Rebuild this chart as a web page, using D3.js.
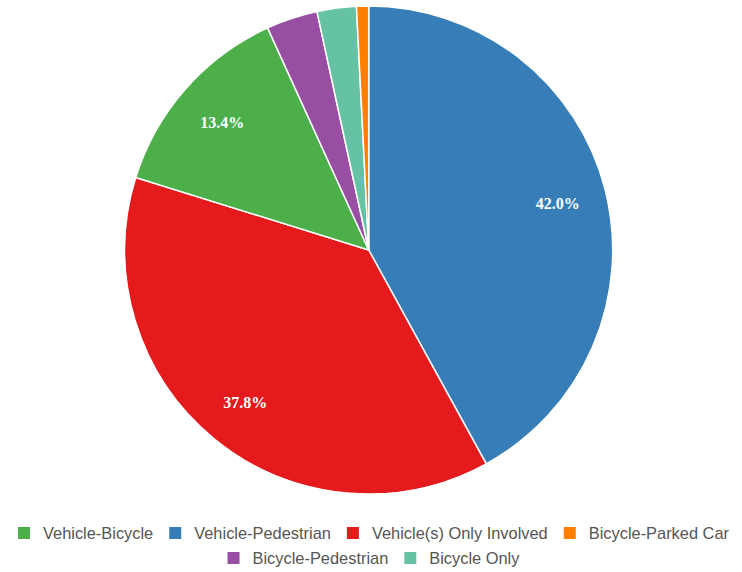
<!DOCTYPE html>
<html>
<head>
<meta charset="utf-8">
<script src="https://cdn.jsdelivr.net/npm/d3@7"></script>
<style>
  html, body { margin: 0; padding: 0; background: #fff; }
  svg { display: block; }
</style>
</head>
<body>
<svg id="chart" width="742" height="572"></svg>
<script>
// Data (clockwise from 12 o'clock)
const categories = ["Vehicle-Pedestrian", "Vehicle(s) Only Involved", "Vehicle-Bicycle", "Bicycle-Pedestrian", "Bicycle Only", "Bicycle-Parked Car"];
const values = [42.0, 37.8, 13.4, 3.4, 2.6, 0.8];
const colors = ["#377eb8", "#e41a1c", "#4daf4a", "#984ea3", "#66c2a5", "#ff7f00"];
const legendOrder = ["Vehicle-Bicycle", "Vehicle-Pedestrian", "Vehicle(s) Only Involved", "Bicycle-Parked Car", "Bicycle-Pedestrian", "Bicycle Only"];
const legendRows = [4, 2];
const labelMin = 10;

const svg = d3.select("#chart");
const cx = 368.7, cy = 250, r = 244;

const color = d3.scaleOrdinal().domain(categories).range(colors);
const data = categories.map((c, i) => ({ name: c, value: values[i] }));

const pie = d3.pie().value(d => d.value).sort(null);
const arc = d3.arc().innerRadius(0).outerRadius(r);
const labelArc = d3.arc().innerRadius(r * 0.8).outerRadius(r * 0.8);

const g = svg.append("g").attr("transform", `translate(${cx},${cy})`);
const arcs = pie(data);

g.selectAll("path").data(arcs).join("path")
  .attr("d", arc)
  .attr("fill", d => color(d.data.name))
  .attr("stroke", "#fff")
  .attr("stroke-width", 1.5);

g.selectAll("text").data(arcs.filter(d => d.data.value >= labelMin)).join("text")
  .attr("transform", d => `translate(${labelArc.centroid(d)})`)
  .attr("text-anchor", "middle")
  .attr("dy", "0.45em")
  .attr("fill", "#fff")
  .style("font-family", "'Liberation Serif', 'Times New Roman', serif")
  .style("font-size", "16px")
  .style("font-weight", "bold")
  .text(d => d.data.value.toFixed(1) + "%");

// Legend
const sq = 12, gapSqText = 13, gapItem = 16;
const rowY = [533, 558];
let idx = 0;
legendRows.forEach((n, ri) => {
  const names = legendOrder.slice(idx, idx + n);
  idx += n;
  const row = svg.append("g");
  let x = 0;
  names.forEach(name => {
    const item = row.append("g").attr("transform", `translate(${x},0)`);
    item.append("rect").attr("x", 0).attr("y", rowY[ri] - 6).attr("width", sq).attr("height", sq)
      .attr("fill", color(name));
    const t = item.append("text").attr("x", sq + gapSqText).attr("y", rowY[ri]).attr("dy", "0.35em")
      .attr("fill", "#555")
      .style("font-family", "'Liberation Sans', Arial, sans-serif")
      .style("font-size", "16.4px")
      .text(name);
    x += sq + gapSqText + t.node().getComputedTextLength() + gapItem;
  });
  const w = x - gapItem;
  row.attr("transform", `translate(${373.5 - w / 2},0)`);
});
</script>
</body>
</html>
